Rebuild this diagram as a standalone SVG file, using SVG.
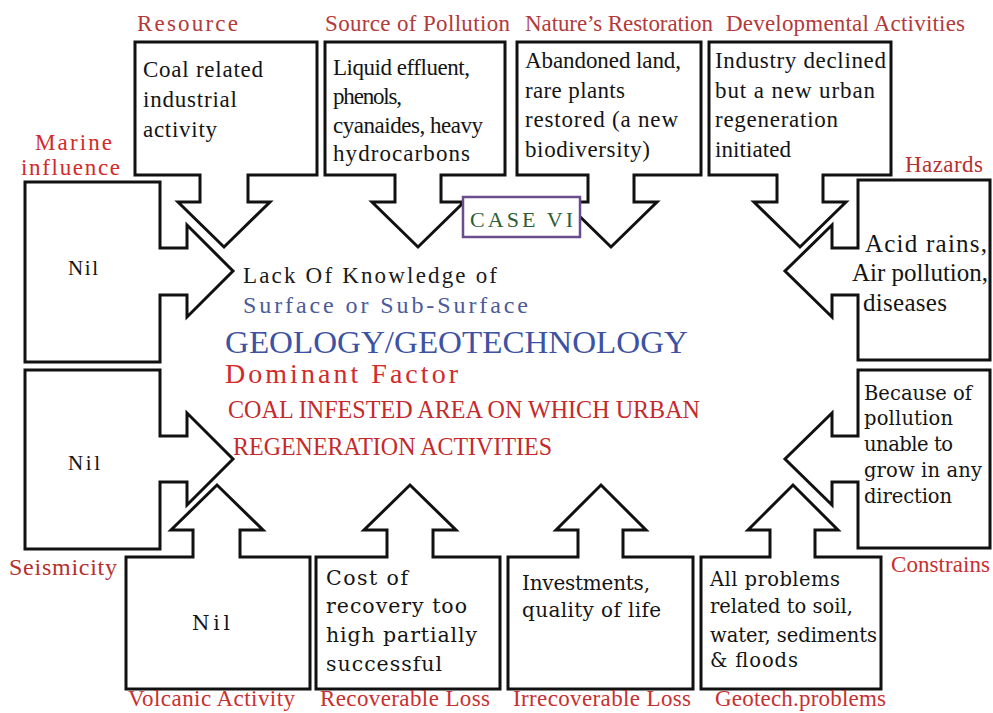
<svg xmlns="http://www.w3.org/2000/svg" width="993" height="713" viewBox="0 0 993 713">
<style>
.box{fill:#fff;stroke:#111;stroke-width:3;stroke-linejoin:miter}
.tm{font-family:"Liberation Serif","Times New Roman",serif}
.dv{font-family:"DejaVu Serif","Liberation Serif",serif}
</style>
<rect width="993" height="713" fill="#fff"/>
<g id="connectors"/>

<g id="resource">
<path class="box" d="M135,42 H317 V175 H248 V202 H270 L224,247 L178,202 H200 V175 H135 Z"/>
<text class="tm" x="137" y="31" font-size="23" fill="#b23a3a" textLength="101" lengthAdjust="spacing">Resource</text>
<text class="tm" x="143" y="77" font-size="23" fill="#141414" textLength="120" lengthAdjust="spacing">Coal related</text>
<text class="tm" x="143" y="107" font-size="23" fill="#141414" textLength="94" lengthAdjust="spacing">industrial</text>
<text class="tm" x="143" y="137" font-size="23" fill="#141414" textLength="74" lengthAdjust="spacing">activity</text>
</g>

<g id="source-of-pollution">
<path class="box" d="M325,42 H505 V175 H441 V202 H464 L418,247 L372,202 H395 V175 H325 Z"/>
<text class="tm" x="325" y="31" font-size="23" fill="#b23a3a" textLength="185" lengthAdjust="spacing">Source of Pollution</text>
<text class="tm" x="333" y="75" font-size="23" fill="#141414" textLength="137" lengthAdjust="spacing">Liquid effluent,</text>
<text class="tm" x="333" y="104" font-size="23" fill="#141414" textLength="69" lengthAdjust="spacing">phenols,</text>
<text class="tm" x="333" y="133" font-size="23" fill="#141414" textLength="150" lengthAdjust="spacing">cyanaides, heavy</text>
<text class="tm" x="333" y="161" font-size="23" fill="#141414" textLength="137" lengthAdjust="spacing">hydrocarbons</text>
</g>

<g id="natures-restoration">
<path class="box" d="M517,42 H701 V175 H634 V202 H657 L611,247 L565,202 H588 V175 H517 Z"/>
<text class="tm" x="525" y="31" font-size="23" fill="#b23a3a" textLength="188" lengthAdjust="spacing">Nature’s Restoration</text>
<text class="tm" x="525" y="68" font-size="23" fill="#141414" textLength="156" lengthAdjust="spacing">Abandoned land,</text>
<text class="tm" x="525" y="98" font-size="23" fill="#141414" textLength="100" lengthAdjust="spacing">rare plants</text>
<text class="tm" x="525" y="127" font-size="23" fill="#141414" textLength="153" lengthAdjust="spacing">restored (a new</text>
<text class="tm" x="525" y="157" font-size="23" fill="#141414" textLength="125" lengthAdjust="spacing">biodiversity)</text>
</g>

<g id="developmental-activities">
<path class="box" d="M709,42 H891 V175 H823 V202 H846 L800,247 L754,202 H777 V175 H709 Z"/>
<text class="tm" x="726" y="31" font-size="23" fill="#b23a3a" textLength="239" lengthAdjust="spacing">Developmental Activities</text>
<text class="tm" x="715" y="68" font-size="23" fill="#141414" textLength="171" lengthAdjust="spacing">Industry declined</text>
<text class="tm" x="715" y="98" font-size="23" fill="#141414" textLength="160" lengthAdjust="spacing">but a new urban</text>
<text class="tm" x="715" y="127" font-size="23" fill="#141414" textLength="123" lengthAdjust="spacing">regeneration</text>
<text class="tm" x="715" y="157" font-size="23" fill="#141414" textLength="76" lengthAdjust="spacing">initiated</text>
</g>

<g id="marine-influence">
<path class="box" d="M25,182 H160 V248 H187 V225 L233,271 L187,317 V295 H160 V362 H25 Z"/>
<text class="tm" x="35" y="150" font-size="23" fill="#d22a2a" textLength="77" lengthAdjust="spacing">Marine</text>
<text class="tm" x="21" y="175" font-size="23" fill="#d22a2a" textLength="99" lengthAdjust="spacing">influence</text>
<text class="tm" x="68" y="275" font-size="21" fill="#141414" textLength="30" lengthAdjust="spacing">Nil</text>
</g>

<g id="seismicity">
<path class="box" d="M25,370 H160 V436 H187 V413 L233,459 L187,505 V482 H160 V549 H25 Z"/>
<text class="tm" x="9" y="575" font-size="24" fill="#b5302f" textLength="108" lengthAdjust="spacing">Seismicity</text>
<text class="tm" x="68" y="470" font-size="21" fill="#141414" textLength="32" lengthAdjust="spacing">Nil</text>
</g>

<g id="hazards">
<path class="box" d="M990,180 V360 H858 V295 H832 V317 L785,271 L832,225 V248 H858 V180 Z"/>
<text class="tm" x="905" y="172" font-size="23" fill="#b5302f" textLength="78" lengthAdjust="spacing">Hazards</text>
<text class="tm" x="865" y="252" font-size="25" fill="#141414" textLength="122" lengthAdjust="spacing">Acid rains,</text>
<text class="tm" x="852" y="281" font-size="25" fill="#141414" textLength="136" lengthAdjust="spacing">Air pollution,</text>
<text class="tm" x="863" y="311" font-size="25" fill="#141414" textLength="84" lengthAdjust="spacing">diseases</text>
</g>

<g id="constrains">
<path class="box" d="M990,370 V548 H858 V482 H832 V505 L785,459 L832,413 V436 H858 V370 Z"/>
<text class="tm" x="891" y="572" font-size="23" fill="#c8302f" textLength="99" lengthAdjust="spacing">Constrains</text>
<text class="dv" x="864" y="400" font-size="19.5" fill="#141414" textLength="108" lengthAdjust="spacing">Because of</text>
<text class="dv" x="864" y="425" font-size="19.5" fill="#141414" textLength="89" lengthAdjust="spacing">pollution</text>
<text class="dv" x="864" y="451" font-size="19.5" fill="#141414" textLength="89" lengthAdjust="spacing">unable to</text>
<text class="dv" x="864" y="477" font-size="19.5" fill="#141414" textLength="118" lengthAdjust="spacing">grow in any</text>
<text class="dv" x="864" y="503" font-size="19.5" fill="#141414" textLength="88" lengthAdjust="spacing">direction</text>
</g>

<g id="volcanic-activity">
<path class="box" d="M126,689 V557 H193 V530 H171 L217,485 L263,530 H240 V557 H310 V689 Z"/>
<text class="tm" x="128" y="706" font-size="23" fill="#c8302f" textLength="167" lengthAdjust="spacing">Volcanic Activity</text>
<text class="dv" x="192" y="630" font-size="20" fill="#141414" textLength="38" lengthAdjust="spacing">Nil</text>
</g>

<g id="recoverable-loss">
<path class="box" d="M316,689 V557 H387 V530 H364 L410,485 L456,530 H433 V557 H500 V689 Z"/>
<text class="tm" x="320" y="706" font-size="23" fill="#c8302f" textLength="170" lengthAdjust="spacing">Recoverable Loss</text>
<text class="dv" x="326" y="585" font-size="20.5" fill="#141414" textLength="82" lengthAdjust="spacing">Cost of</text>
<text class="dv" x="326" y="613" font-size="20.5" fill="#141414" textLength="141" lengthAdjust="spacing">recovery too</text>
<text class="dv" x="326" y="642" font-size="20.5" fill="#141414" textLength="151" lengthAdjust="spacing">high partially</text>
<text class="dv" x="326" y="671" font-size="20.5" fill="#141414" textLength="116" lengthAdjust="spacing">successful</text>
</g>

<g id="irrecoverable-loss">
<path class="box" d="M508,689 V557 H578 V530 H556 L601,485 L646,530 H623 V557 H693 V689 Z"/>
<text class="tm" x="513" y="706" font-size="23" fill="#c8302f" textLength="178" lengthAdjust="spacing">Irrecoverable Loss</text>
<text class="dv" x="522" y="590" font-size="20" fill="#141414" textLength="128" lengthAdjust="spacing">Investments,</text>
<text class="dv" x="522" y="617" font-size="20" fill="#141414" textLength="139" lengthAdjust="spacing">quality of life</text>
</g>

<g id="geotech-problems">
<path class="box" d="M701,689 V557 H770 V530 H748 L793,485 L838,530 H815 V557 H881 V689 Z"/>
<text class="tm" x="715" y="706" font-size="23" fill="#c8302f" textLength="171" lengthAdjust="spacing">Geotech.problems</text>
<text class="dv" x="710" y="586" font-size="19.5" fill="#141414" textLength="130" lengthAdjust="spacing">All problems</text>
<text class="dv" x="710" y="613" font-size="19.5" fill="#141414" textLength="143" lengthAdjust="spacing">related to soil,</text>
<text class="dv" x="710" y="642" font-size="19.5" fill="#141414" textLength="167" lengthAdjust="spacing">water, sediments</text>
<text class="dv" x="710" y="667" font-size="19.5" fill="#141414" textLength="88" lengthAdjust="spacing">&amp; floods</text>
</g>

<g id="case-vi">
<rect x="463" y="197" width="117" height="40" fill="#fff" stroke="#6b4c8c" stroke-width="2.5"/>
<text class="tm" x="470" y="227" font-size="22" fill="#2e5e36" textLength="103" lengthAdjust="spacing">CASE VI</text>
</g>

<g id="center">
<text class="tm" x="243" y="283" font-size="23" fill="#1a1a1a" textLength="254" lengthAdjust="spacing">Lack Of Knowledge of</text>
<text class="tm" x="243" y="313" font-size="24" fill="#4b5b9c" textLength="285" lengthAdjust="spacing">Surface or Sub-Surface</text>
<text class="tm" x="225" y="353" font-size="31" fill="#3d52a3" textLength="463" lengthAdjust="spacingAndGlyphs">GEOLOGY/GEOTECHNOLOGY</text>
<text class="tm" x="225" y="383" font-size="28" fill="#d12b2b" textLength="233" lengthAdjust="spacing">Dominant Factor</text>
<text class="tm" x="228" y="418" font-size="26" fill="#c42a2a" textLength="472" lengthAdjust="spacingAndGlyphs">COAL INFESTED AREA ON WHICH URBAN</text>
<text class="tm" x="233" y="455" font-size="26" fill="#c42a2a" textLength="319" lengthAdjust="spacingAndGlyphs">REGENERATION ACTIVITIES</text>
</g>
</svg>
